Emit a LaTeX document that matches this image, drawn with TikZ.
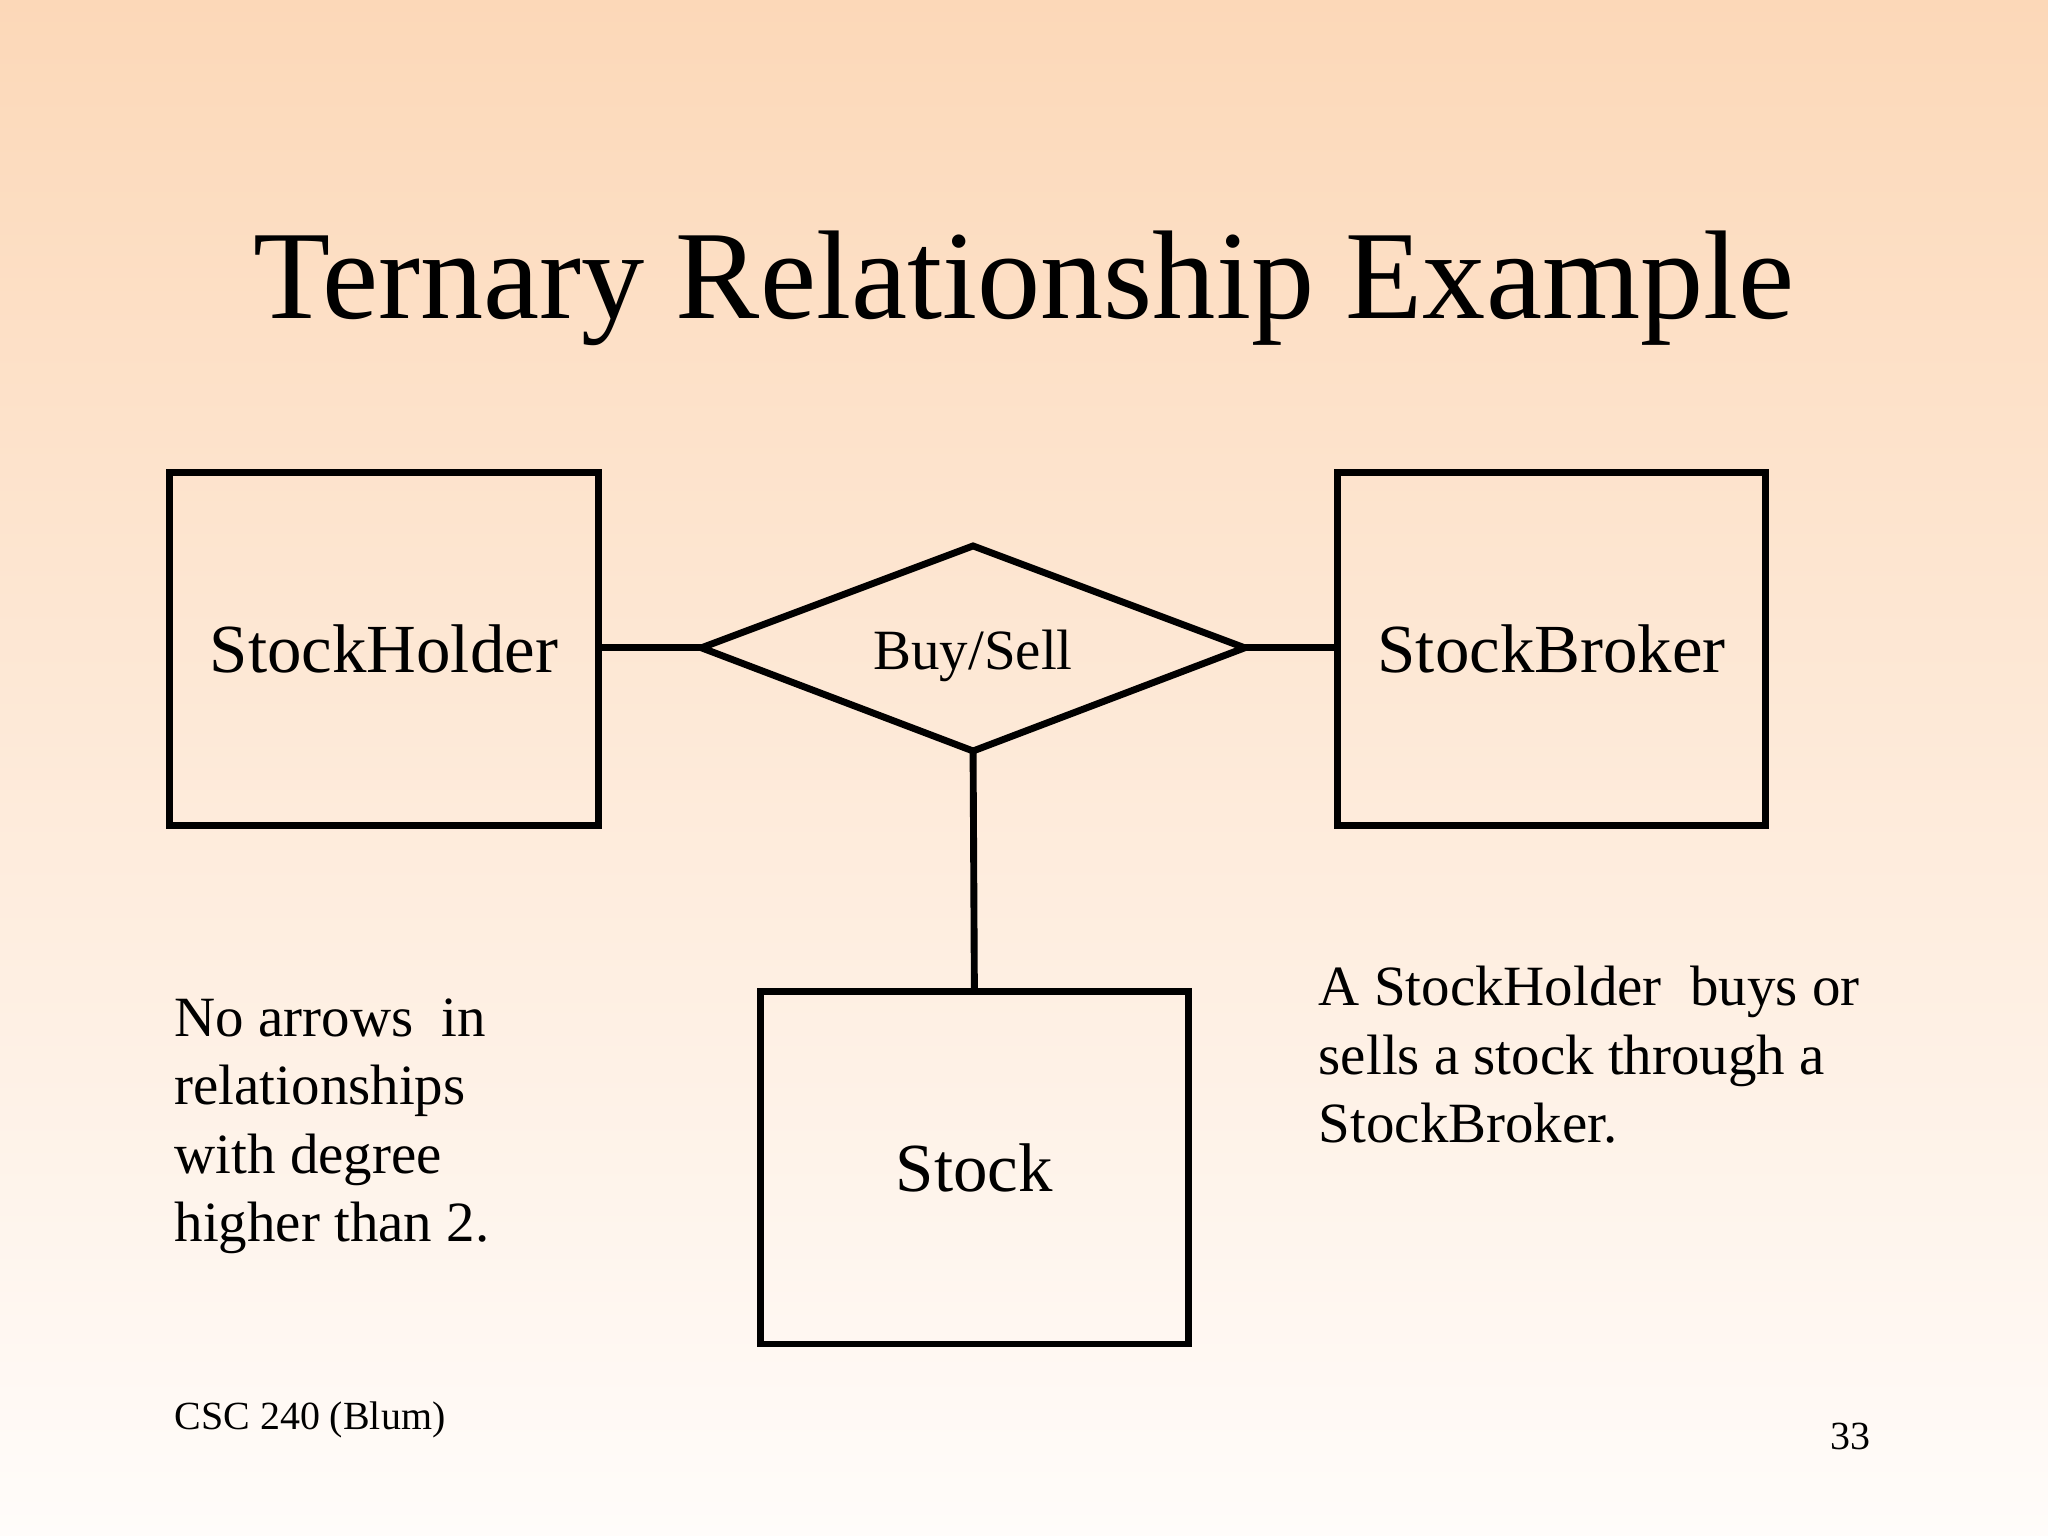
\documentclass[tikz,border=0pt]{standalone}
\usepackage{fontspec}
\setmainfont{Liberation Serif}
\usetikzlibrary{shapes.geometric}
\definecolor{bgtop}{RGB}{252,216,184}
\definecolor{bgbot}{RGB}{255,252,250}
\tikzset{ent/.style={draw,line width=1.5pt,minimum width=3.28cm,minimum height=2.7cm,font=\fontsize{15}{18}\selectfont},
 conn/.style={line width=1.5pt},
 note/.style={anchor=north west,align=left,font=\fontsize{12.4}{14.9}\selectfont,inner sep=0pt}}
\begin{document}
\begin{tikzpicture}
\shade[top color=bgtop,bottom color=bgbot] (0,0) rectangle (15.68,11.76);
\useasboundingbox (0,0) rectangle (15.68,11.76);
\node (title) at (7.84,9.55) {\fontsize{27.5}{32}\selectfont Ternary Relationship Example};
\node[ent] (sh) at (2.94,6.79) {StockHolder};
\node[ent] (sb) at (11.88,6.79) {StockBroker};
\node[ent] (st) at (7.46,2.82) {Stock};
\coordinate (dl) at (5.37,6.80);
\coordinate (dt) at (7.45,7.58);
\coordinate (dr) at (9.53,6.80);
\coordinate (db) at (7.45,6.01);
\draw[conn,line join=miter] (dl) -- (dt) -- (dr) -- (db) -- cycle;
\node (bs) at (7.45,6.74) {\fontsize{12.4}{15}\selectfont Buy/Sell};
\draw[conn] (sh.east |- dl) -- (dl);
\draw[conn] (dr) -- (sb.west |- dr);
\draw[conn] (db) -- (st.north);
\node[note] (n1) at (1.33,4.12) {No arrows\ \ in\\relationships\\with degree\\higher than 2.};
\node[note] (n2) at (10.09,4.37) {A StockHolder\ \ buys or\\sells a stock through a\\StockBroker.};
\node[anchor=west,inner sep=0pt] (ft) at (1.33,0.89) {\fontsize{8.7}{10}\selectfont CSC 240 (Blum)};
\node[anchor=east,inner sep=0pt] (pg) at (14.33,0.76) {\fontsize{8.7}{10}\selectfont 33};
\end{tikzpicture}
\end{document}
